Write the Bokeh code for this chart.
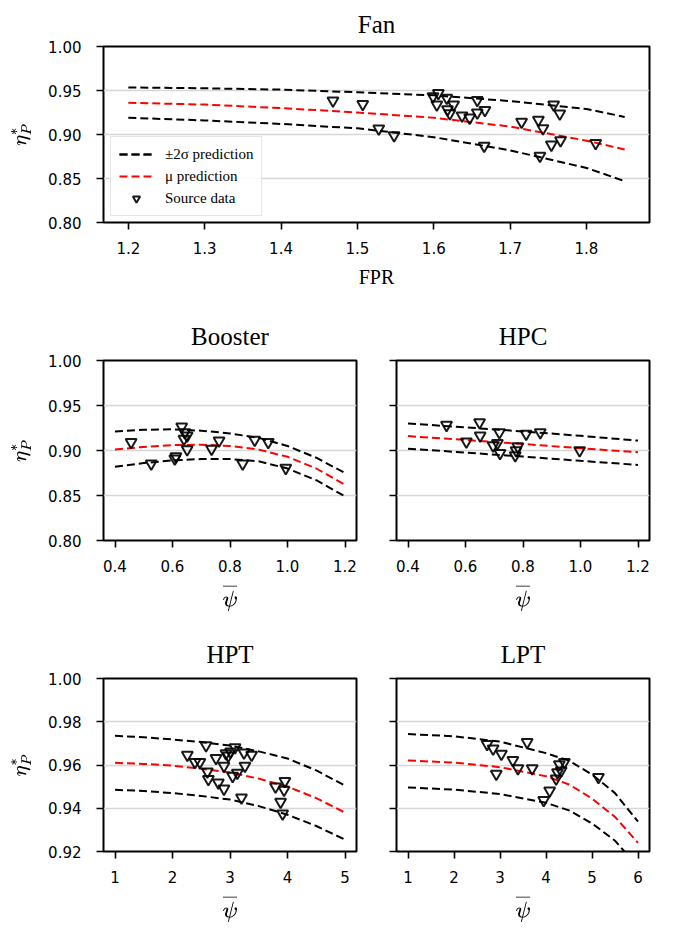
from bokeh.plotting import figure
from bokeh.models import Range1d, FixedTicker, NumeralTickFormatter, TeX, CustomJSTickFormatter
from bokeh.layouts import column, row
from bokeh.embed import file_html
from bokeh.resources import INLINE

# ---------------- data ----------------
# Fan
fan_curve_x = [1.2, 1.3, 1.4, 1.5, 1.6, 1.7, 1.8, 1.85]
fan_upper = [0.9535, 0.9525, 0.951, 0.948, 0.9445, 0.938, 0.929, 0.920]
fan_mean = [0.936, 0.934, 0.930, 0.925, 0.919, 0.909, 0.893, 0.883]
fan_lower = [0.919, 0.916, 0.912, 0.907, 0.897, 0.882, 0.862, 0.847]
fan_pts_x = [1.468, 1.507, 1.528, 1.548, 1.599, 1.606, 1.604, 1.617, 1.626, 1.618,
             1.621, 1.637, 1.647, 1.657, 1.657, 1.667, 1.666, 1.715, 1.737, 1.743,
             1.757, 1.765, 1.754, 1.766, 1.739, 1.812]
fan_pts_y = [0.9385, 0.9344, 0.9067, 0.8989, 0.9433, 0.9470, 0.9340, 0.9415, 0.9340, 0.9285,
             0.9240, 0.9215, 0.9190, 0.9248, 0.9389, 0.9277, 0.8871, 0.9144, 0.9166, 0.9069,
             0.9340, 0.9236, 0.8883, 0.8932, 0.8757, 0.8902]

# Booster
bst_curve_x = [0.4, 0.5, 0.6, 0.7, 0.8, 0.9, 1.0, 1.1, 1.2]
bst_upper = [0.921, 0.923, 0.9235, 0.922, 0.919, 0.914, 0.905, 0.892, 0.875]
bst_mean = [0.901, 0.904, 0.906, 0.9065, 0.905, 0.901, 0.893, 0.880, 0.862]
bst_lower = [0.882, 0.886, 0.889, 0.8905, 0.8905, 0.888, 0.880, 0.867, 0.849]
bst_pts_x = [0.456, 0.526, 0.612, 0.608, 0.632, 0.643, 0.651, 0.640, 0.651, 0.736,
             0.762, 0.844, 0.886, 0.933, 0.994]
bst_pts_y = [0.9092, 0.8853, 0.8934, 0.8910, 0.9265, 0.9202, 0.9166, 0.9129, 0.9011, 0.9018,
             0.9110, 0.8853, 0.9118, 0.9092, 0.8805]

# HPC
hpc_curve_x = [0.4, 0.6, 0.8, 1.0, 1.2]
hpc_upper = [0.930, 0.9257, 0.9212, 0.9163, 0.911]
hpc_mean = [0.916, 0.9117, 0.9072, 0.9025, 0.898]
hpc_lower = [0.902, 0.8977, 0.8932, 0.8885, 0.884]
hpc_pts_x = [0.534, 0.603, 0.649, 0.651, 0.696, 0.718, 0.711, 0.720, 0.773, 0.782,
             0.776, 0.811, 0.860, 0.997]
hpc_pts_y = [0.9283, 0.9099, 0.9313, 0.9166, 0.9055, 0.9202, 0.9081, 0.8970, 0.8945, 0.9044,
             0.9000, 0.9184, 0.9202, 0.9000]

# HPT
hpt_curve_x = [1.0, 1.5, 2.0, 2.5, 3.0, 3.5, 4.0, 4.5, 5.0]
hpt_upper = [0.9735, 0.9728, 0.9718, 0.9706, 0.9690, 0.9663, 0.9630, 0.9575, 0.9505]
hpt_mean = [0.9610, 0.9605, 0.9597, 0.9583, 0.9565, 0.9537, 0.9500, 0.9447, 0.9380]
hpt_lower = [0.9485, 0.9480, 0.9470, 0.9457, 0.9440, 0.9410, 0.9370, 0.9318, 0.9255]
hpt_pts_x = [2.258, 2.391, 2.476, 2.583, 2.606, 2.624, 2.757, 2.797, 2.895, 2.895,
             2.930, 2.970, 3.010, 3.087, 3.046, 3.127, 3.200, 3.243, 3.260, 3.376,
             3.792, 3.955, 3.940, 3.880, 3.915]
hpt_pts_y = [0.9647, 0.9613, 0.9613, 0.9691, 0.9569, 0.9534, 0.9632, 0.9518, 0.9596, 0.9490,
             0.9654, 0.9643, 0.9662, 0.9681, 0.9549, 0.9563, 0.9449, 0.9657, 0.9596, 0.9647,
             0.9500, 0.9525, 0.9485, 0.9429, 0.9375]

# LPT
lpt_curve_x = [1.0, 2.0, 3.0, 4.0, 4.5, 5.0, 5.5, 6.0]
lpt_upper = [0.9743, 0.9733, 0.9708, 0.9655, 0.9620, 0.9556, 0.9470, 0.9338]
lpt_mean = [0.9621, 0.9611, 0.9590, 0.9548, 0.9510, 0.9445, 0.9360, 0.9240]
lpt_lower = [0.9496, 0.9486, 0.9466, 0.9425, 0.9390, 0.9330, 0.9250, 0.9130]
lpt_pts_x = [2.72, 2.85, 3.03, 2.92, 3.28, 3.39, 3.59, 3.70, 4.08, 3.95,
             4.22, 4.25, 4.29, 4.40, 4.33, 5.14]
lpt_pts_y = [0.9696, 0.9676, 0.9651, 0.9559, 0.9622, 0.9584, 0.9706, 0.9584, 0.9481, 0.9437,
             0.9537, 0.9566, 0.9603, 0.9613, 0.9574, 0.9544]

# tick values
fan_xticks = [1.2, 1.3, 1.4, 1.5, 1.6, 1.7, 1.8]
psi_small_ticks = [0.4, 0.6, 0.8, 1.0, 1.2]
hpt_xticks = [1, 2, 3, 4, 5]
lpt_xticks = [1, 2, 3, 4, 5, 6]
eta_ticks_a = [0.80, 0.85, 0.90, 0.95, 1.00]
eta_ticks_b = [0.92, 0.94, 0.96, 0.98, 1.00]

SERIF = "Liberation Serif"
SANS = "DejaVu Sans"


def make_fig(title, width, height, bl, br, bt, bb, xr, yr, xticks, yticks,
             xfmt, xlabel, ylabel, show_ylabels, title_standoff=21):
    p = figure(width=width, height=height, output_backend="svg", toolbar_location=None,
               x_range=Range1d(*xr), y_range=Range1d(*yr),
               min_border_left=bl, min_border_right=br, min_border_top=bt,
               min_border_bottom=bb, title=title)
    p.title.text_font = SERIF
    p.title.text_font_size = "25px"
    p.title.text_font_style = "normal"
    p.title.text_color = "black"
    p.title.align = "center"
    p.title.standoff = title_standoff
    p.outline_line_color = "black"
    p.outline_line_width = 2
    p.outline_line_alpha = 1
    p.background_fill_color = "white"
    p.border_fill_color = "white"
    p.xgrid.visible = False
    p.ygrid.ticker = FixedTicker(ticks=yticks)
    p.ygrid.grid_line_color = "#d6d6d6"
    p.ygrid.grid_line_width = 1.5
    for ax in (p.xaxis[0], p.yaxis[0]):
        ax.axis_line_color = None
        ax.major_tick_line_color = "black"
        ax.major_tick_line_width = 1.6
        ax.major_tick_out = 7
        ax.major_tick_in = 0
        ax.minor_tick_line_color = None
        ax.major_label_text_font = SANS
        ax.major_label_text_font_size = "15px"
        ax.major_label_text_color = "black"
        ax.axis_label_text_font = SERIF
        ax.axis_label_text_font_style = "normal"
        ax.axis_label_text_color = "black"
    p.xaxis.ticker = FixedTicker(ticks=xticks)
    p.xaxis.formatter = NumeralTickFormatter(format=xfmt)
    p.xaxis.major_label_standoff = 12
    p.xaxis.axis_label = xlabel
    p.xaxis.axis_label_text_font_size = "20px"
    p.xaxis.axis_label_standoff = 9
    p.yaxis.ticker = FixedTicker(ticks=yticks)
    if show_ylabels:
        p.yaxis.formatter = NumeralTickFormatter(format="0.00")
        p.yaxis.major_label_standoff = 15
        p.yaxis.axis_label = ylabel
        p.yaxis.axis_label_text_font_size = "18px"
        p.yaxis.axis_label_standoff = 14
    else:
        p.yaxis.formatter = CustomJSTickFormatter(code="return ''")
        p.yaxis.major_label_text_color = None
        p.yaxis.major_label_standoff = 0
    return p


def add_series(p, cx, up, mu, lo, px, py, legend=False):
    kw_s = dict(legend_label="±2σ prediction") if legend else {}
    kw_m = dict(legend_label="μ prediction") if legend else {}
    kw_d = dict(legend_label="Source data") if legend else {}
    p.line(cx, up, line_color="black", line_dash="8 4", line_width=2, **kw_s)
    p.line(cx, mu, line_color="red", line_dash="8 4", line_width=2, **kw_m)
    p.line(cx, lo, line_color="black", line_dash="8 4", line_width=2, **kw_s)
    p.scatter(px, py, marker="inverted_triangle", size=11, fill_color=None,
              line_color="black", line_width=2, line_alpha=0.9, **kw_d)


fan = make_fig("Fan", 660, 308, 103, 11, 43, 86, (1.1675, 1.8825), (0.80, 1.00),
               fan_xticks, eta_ticks_a, "0.0", "FPR", TeX(text=r"\eta_P^*"), True,
               title_standoff=17)
add_series(fan, fan_curve_x, fan_upper, fan_mean, fan_lower, fan_pts_x, fan_pts_y, legend=True)
fan.legend.location = (7, 6)
fan.legend.label_text_font = SERIF
fan.legend.label_text_font_size = "15px"
fan.legend.label_text_color = "black"
fan.legend.glyph_width = 34
fan.legend.glyph_height = 18
fan.legend.label_height = 18
fan.legend.spacing = 4
fan.legend.padding = 8
fan.legend.margin = 0
fan.legend.label_standoff = 12
fan.legend.border_line_color = "#cccccc"
fan.legend.border_line_width = 1
fan.legend.background_fill_alpha = 0.85

bst = make_fig("Booster", 366, 317, 103, 10, 52, 85, (0.36, 1.24), (0.80, 1.00),
               psi_small_ticks, eta_ticks_a, "0.0", TeX(text=r"\overline{\psi}"),
               TeX(text=r"\eta_P^*"), True)
add_series(bst, bst_curve_x, bst_upper, bst_mean, bst_lower, bst_pts_x, bst_pts_y)

hpc = make_fig("HPC", 293, 317, 30, 10, 52, 85, (0.36, 1.24), (0.80, 1.00),
               psi_small_ticks, eta_ticks_a, "0.0", TeX(text=r"\overline{\psi}"), None, False)
add_series(hpc, hpc_curve_x, hpc_upper, hpc_mean, hpc_lower, hpc_pts_x, hpc_pts_y)

hpt = make_fig("HPT", 366, 300, 103, 10, 53, 66, (0.8, 5.2), (0.92, 1.00),
               hpt_xticks, eta_ticks_b, "0", TeX(text=r"\overline{\psi}"),
               TeX(text=r"\eta_P^*"), True)
add_series(hpt, hpt_curve_x, hpt_upper, hpt_mean, hpt_lower, hpt_pts_x, hpt_pts_y)

lpt = make_fig("LPT", 293, 300, 30, 10, 53, 66, (0.75, 6.25), (0.92, 1.00),
               lpt_xticks, eta_ticks_b, "0", TeX(text=r"\overline{\psi}"), None, False)
add_series(lpt, lpt_curve_x, lpt_upper, lpt_mean, lpt_lower, lpt_pts_x, lpt_pts_y)

layout = column(fan, row(bst, hpc), row(hpt, lpt))

open("out.html", "w").write(file_html(layout, INLINE))
